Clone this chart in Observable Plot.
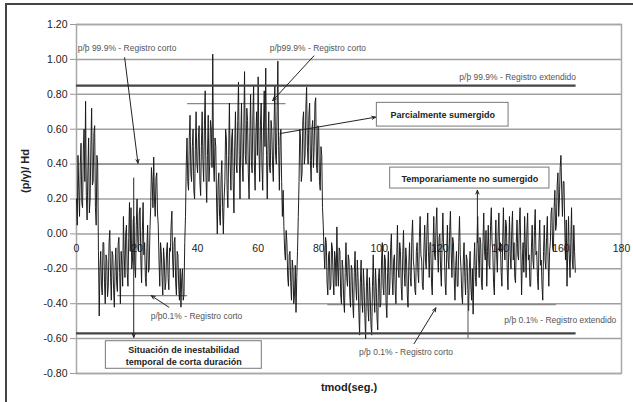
<!DOCTYPE html>
<html><head><meta charset="utf-8">
<script src="https://cdn.jsdelivr.net/npm/d3@7"></script>
<script src="https://cdn.jsdelivr.net/npm/@observablehq/plot@0.6"></script>
<style>
html,body{margin:0;padding:0;background:#fff;}
#wrap{position:relative;width:633px;height:402px;overflow:hidden;}
#border{position:absolute;left:5px;top:3px;width:700px;height:500px;border-top:2px solid #444;border-left:2px solid #444;}
#chart{position:absolute;left:0;top:0;}
</style></head>
<body>
<div id="wrap"><div id="border"></div><div id="chart"></div></div>
<script>
// time step of the record (s)
const dt = 0.25;
// (p/γ)/Hd values, one every 0.25 s starting at t = 0 (20 values = 5 s per row)
const pressure = [
  0.20, 0.05, 0.45, 0.25, 0.10, 0.40, 0.52, 0.18, 0.15, 0.48, 0.60, 0.30, 0.76, 0.22, 0.08, 0.35, 0.55, 0.12, 0.20, 0.50,
  0.72, 0.28, 0.30, 0.58, 0.62, 0.15, 0.05, 0.45, 0.40, -0.10, -0.47, -0.20, -0.10, -0.30, -0.35, -0.05, -0.05, -0.28, -0.40, -0.12,
  -0.15, -0.36, -0.30, -0.05, 0.02, -0.25, -0.38, -0.10, -0.12, -0.32, -0.42, -0.18, -0.08, -0.28, -0.33, -0.06, -0.02, -0.22, -0.40, -0.10,
  -0.18, -0.30, 0.10, -0.12, -0.25, 0.00, 0.05, -0.22, -0.30, -0.02, 0.18, -0.10, 0.15, -0.20, -0.15, 0.08, 0.10, -0.18, -0.25, 0.05,
  0.20, -0.05, -0.10, 0.12, 0.15, -0.15, -0.28, 0.02, 0.18, -0.12, -0.05, -0.25, -0.30, -0.08, 0.05, -0.22, -0.20, 0.02, 0.15, 0.38,
  0.30, 0.15, 0.44, 0.20, 0.10, 0.32, 0.35, 0.12, 0.05, -0.15, -0.30, -0.05, -0.10, -0.25, -0.35, -0.08, -0.15, -0.32, -0.28, -0.10,
  -0.05, -0.25, -0.32, -0.08, -0.10, 0.05, 0.13, -0.15, -0.25, -0.05, -0.02, -0.28, -0.35, -0.10, -0.12, -0.30, -0.38, -0.20, -0.42, -0.25,
  -0.20, -0.38, -0.35, -0.05, 0.10, 0.40, 0.55, 0.30, 0.25, 0.55, 0.68, 0.35, 0.30, 0.50, 0.60, 0.25, 0.20, 0.48, 0.70, 0.40,
  0.35, 0.55, 0.62, 0.30, 0.22, 0.50, 0.70, 0.42, 0.30, 0.62, 0.82, 0.35, 0.18, 0.45, 0.68, 0.30, 0.40, 0.65, 0.60, 0.38,
  1.03, 0.40, 0.30, 0.55, 0.50, 0.20, 0.00, 0.28, 0.35, 0.10, 0.05, 0.32, 0.42, 0.15, 0.00, 0.20, 0.30, 0.60, 0.55, 0.25,
  0.15, 0.45, 0.75, 0.40, 0.25, 0.55, 0.60, 0.30, 0.12, 0.50, 0.70, 0.40, 0.35, 0.65, 0.87, 0.45, 0.20, 0.55, 0.75, 0.40,
  0.30, 0.60, 0.93, 0.45, 0.40, 0.72, 0.65, 0.35, 0.20, 0.55, 0.80, 0.42, 0.35, 0.68, 0.85, 0.40, 0.25, 0.58, 0.70, 0.45,
  0.90, 0.50, 0.30, 0.62, 0.75, 0.40, 0.25, 0.60, 0.82, 0.50, 0.95, 0.45, 0.20, 0.52, 0.70, 0.38, 0.35, 0.65, 0.60, 0.40,
  0.30, 0.62, 0.85, 0.45, 0.40, 0.70, 0.99, 0.50, 0.25, 0.55, 0.60, 0.30, 0.10, 0.25, 0.04, -0.10, -0.15, 0.02, -0.05, -0.25,
  -0.30, -0.12, -0.10, -0.28, -0.38, -0.15, -0.20, -0.40, -0.35, -0.18, -0.45, -0.25, -0.10, 0.10, 0.30, 0.60, 0.55, 0.30, 0.35, 0.65,
  0.70, 0.40, 0.45, 0.72, 0.84, 0.50, 0.40, 0.68, 0.75, 0.42, 0.30, 0.60, 0.65, 0.38, 0.50, 0.75, 0.78, 0.40, 0.35, 0.62,
  0.60, 0.30, 0.25, 0.50, 0.45, 0.15, 0.05, -0.10, -0.20, -0.02, -0.05, -0.28, -0.35, -0.12, -0.10, -0.32, -0.30, -0.05, -0.08, -0.25,
  -0.35, -0.10, -0.15, -0.30, 0.04, -0.20, -0.30, -0.08, -0.10, -0.35, -0.40, -0.15, -0.20, -0.38, -0.45, -0.22, -0.05, -0.25, -0.30, -0.12,
  -0.15, -0.35, -0.42, -0.18, -0.20, -0.40, -0.48, -0.22, -0.10, -0.30, -0.38, -0.15, -0.25, -0.45, -0.58, -0.28, -0.15, -0.38, -0.45, -0.20,
  -0.30, -0.48, -0.60, -0.30, -0.20, -0.42, -0.50, -0.25, -0.35, -0.52, -0.58, -0.30, -0.12, -0.35, -0.45, -0.20, -0.30, -0.48, -0.55, -0.25,
  -0.20, -0.42, -0.40, -0.15, -0.05, -0.30, -0.35, -0.12, -0.15, -0.40, -0.48, -0.22, -0.10, -0.35, -0.30, -0.08, 0.00, -0.25, -0.35, -0.15,
  -0.12, -0.32, -0.40, -0.15, 0.05, -0.20, -0.25, -0.05, -0.10, -0.30, -0.38, -0.12, 0.02, -0.22, -0.30, -0.08, -0.15, -0.35, -0.42, -0.18,
  -0.05, -0.25, -0.30, -0.02, 0.08, -0.15, -0.20, -0.32, -0.35, -0.10, -0.05, -0.22, -0.28, -0.02, 0.10, -0.12, -0.15, -0.30, -0.32, -0.08,
  0.05, -0.15, -0.20, 0.02, 0.12, -0.10, -0.25, -0.05, -0.05, -0.28, -0.35, -0.08, 0.10, -0.12, -0.15, 0.05, 0.15, -0.10, -0.22, -0.02,
  0.00, -0.20, -0.30, -0.05, 0.12, -0.08, -0.10, -0.28, -0.35, -0.12, 0.05, -0.15, -0.20, 0.02, 0.13, -0.10, -0.25, -0.02, -0.05, -0.25,
  -0.38, -0.18, -0.10, -0.30, -0.30, -0.05, 0.10, -0.12, -0.20, -0.35, -0.40, -0.15, -0.05, -0.25, -0.35, -0.12, -0.15, -0.32, -0.44, -0.20,
  -0.10, -0.30, -0.38, -0.20, -0.46, -0.18, -0.05, -0.25, -0.30, -0.08, 0.10, -0.12, -0.25, -0.02, -0.05, -0.28, -0.32, -0.05, 0.12, -0.10,
  -0.15, 0.02, -0.30, -0.10, 0.05, -0.18, -0.20, 0.05, 0.15, -0.05, -0.10, -0.28, -0.35, -0.08, 0.08, -0.12, -0.22, 0.00, 0.12, -0.10,
  -0.05, -0.22, -0.30, -0.05, 0.15, -0.08, -0.15, 0.08, 0.05, -0.20, -0.32, -0.10, 0.10, -0.12, -0.20, 0.02, 0.13, -0.15, -0.05, -0.25,
  -0.28, -0.05, 0.08, -0.12, -0.15, 0.05, 0.15, -0.10, -0.35, -0.15, -0.05, -0.22, 0.10, -0.08, -0.25, 0.02, 0.12, -0.15, -0.12, -0.30,
  -0.30, -0.08, 0.05, -0.15, -0.20, 0.02, 0.14, -0.12, -0.10, -0.25, -0.32, -0.05, 0.08, -0.18, -0.15, -0.30, -0.38, -0.10, 0.05, -0.15,
  -0.20, -0.02, 0.10, -0.15, -0.30, -0.10, -0.05, 0.12, 0.15, -0.08, -0.10, 0.15, 0.25, 0.02, 0.05, 0.28, 0.35, 0.10, 0.20, 0.38,
  0.45, 0.25, 0.10, 0.30, 0.30, 0.05, -0.15, 0.08, -0.30, -0.10, 0.10, -0.12, -0.25, -0.05, 0.15, -0.15, -0.20, 0.05, -0.10, -0.22
];
const xTicks = [0, 20, 40, 60, 80, 100, 120, 140, 160, 180];
const yTicks = [-0.8, -0.6, -0.4, -0.2, 0, 0.2, 0.4, 0.6, 0.8, 1.0, 1.2];

// percentile levels (extended record) and short-record levels
const extendedLevels = [
  {v: 0.85, t1: 0, t2: 165},
  {v: -0.57, t1: 0, t2: 165}
];
const shortLevels = [
  {v: 0.40, t1: 7, t2: 37},
  {v: 0.747, t1: 36.7, t2: 69.2},
  {v: -0.354, t1: 13.6, t2: 36.7},
  {v: -0.405, t1: 83, t2: 158.5}
];
const labelsStart = [
  {t: 0.4, v: 1.062, text: "p/þ 99.9% - Registro corto"},
  {t: 63.8, v: 1.062, text: "p/þ99.9% - Registro corto"},
  {t: 24.5, v: -0.472, text: "p/þ0.1% - Registro corto"},
  {t: 93.3, v: -0.679, text: "p/þ 0.1% - Registro corto"}
];
const labelsEnd = [
  {t: 165.0, v: 0.896, text: "p/þ 99.9% - Registro extendido"},
  {t: 178.3, v: -0.493, text: "p/þ 0.1% - Registro extendido"}
];
const arrows = [
  {t1: 15.9, v1: 1.01, t2: 20.3, v2: 0.405},
  {t1: 78.4, v1: 1.02, t2: 64.8, v2: 0.764},
  {t1: 67.2, v1: 0.575, t2: 98.8, v2: 0.669},
  {t1: 132.4, v1: -0.05, t2: 132.4, v2: 0.25},
  {t1: 30.5, v1: -0.42, t2: 24.7, v2: -0.354},
  {t1: 111.5, v1: -0.629, t2: 118.7, v2: -0.424},
  {t1: 18.9, v1: 0.32, t2: 18.9, v2: -0.593}
];
const extraRules = [{t: 129.3, v1: -0.36, v2: -0.6}];
const boxes = [
  {t1: 99.2, t2: 142.7, v1: 0.615, v2: 0.751, text: "Parcialmente sumergido"},
  {t1: 103.6, t2: 156.2, v1: 0.26, v2: 0.38, text: "Temporariamente no sumergido"},
  {t1: 9.7, t2: 61.2, v1: -0.773, v2: -0.615, text: "Situación de inestabilidad\ntemporal de corta duración"}
];

const series = pressure.map((v, i) => ({t: i * dt, v}));

const chart = Plot.plot({
  width: 633,
  height: 402,
  marginLeft: 76,
  marginRight: 12,
  marginTop: 24,
  marginBottom: 29,
  x: {domain: [0, 180], axis: null},
  y: {domain: [-0.8, 1.2]},
  style: {fontFamily: "'Liberation Sans', Arial, sans-serif", background: "transparent", color: "#222", overflow: "visible"},
  marks: [
    Plot.ruleY(yTicks, {stroke: "#a0a0a0", strokeWidth: 1.5}),
    Plot.frame({stroke: "#a8a8a8", strokeWidth: 1.5}),
    Plot.axisY({ticks: yTicks, tickFormat: d => d.toFixed(2), tickSize: 6, tickPadding: 3, fontSize: 10.5, label: null, stroke: "#999"}),
    Plot.text(xTicks, {x: d => d, y: 0, dy: 15, text: d => String(d), fontSize: 10.5, fill: "#222"}),
    Plot.ruleY(shortLevels, {y: "v", x1: "t1", x2: "t2", stroke: "#888", strokeWidth: 1.2}),
    Plot.line(series, {x: "t", y: "v", stroke: "#161616", strokeWidth: 0.95}),
    Plot.ruleY(extendedLevels, {y: "v", x1: "t1", x2: "t2", stroke: "#444", strokeWidth: 2.2}),
    Plot.ruleX(extraRules, {x: "t", y1: "v1", y2: "v2", stroke: "#555", strokeWidth: 1}),
    Plot.arrow(arrows, {x1: "t1", y1: "v1", x2: "t2", y2: "v2", stroke: "#222", strokeWidth: 1, headLength: 6, headAngle: 45}),
    Plot.rect(boxes, {x1: "t1", x2: "t2", y1: "v1", y2: "v2", fill: "white", stroke: "#777", strokeWidth: 1}),
    Plot.text(boxes, {x: d => (d.t1 + d.t2) / 2, y: d => (d.v1 + d.v2) / 2, text: "text", lineHeight: 1.3, fontWeight: "bold", fontSize: 9, fill: "#222"}),
    Plot.text(labelsStart, {x: "t", y: "v", text: "text", textAnchor: "start", fontSize: 8.5, fill: "#555"}),
    Plot.text(labelsEnd, {x: "t", y: "v", text: "text", textAnchor: "end", fontSize: 8.5, fill: "#555"}),
    Plot.text(["(p/γ)/ Hd"], {frameAnchor: "left", text: d => d, rotate: -90, dx: -51, dy: -6, fontWeight: "bold", fontSize: 11, fill: "#222"}),
    Plot.text(["tmod(seg.)"], {frameAnchor: "bottom", text: d => d, dy: 17, fontWeight: "bold", fontSize: 11, fill: "#222"})
  ]
});
document.getElementById("chart").appendChild(chart);
</script>
</body></html>
